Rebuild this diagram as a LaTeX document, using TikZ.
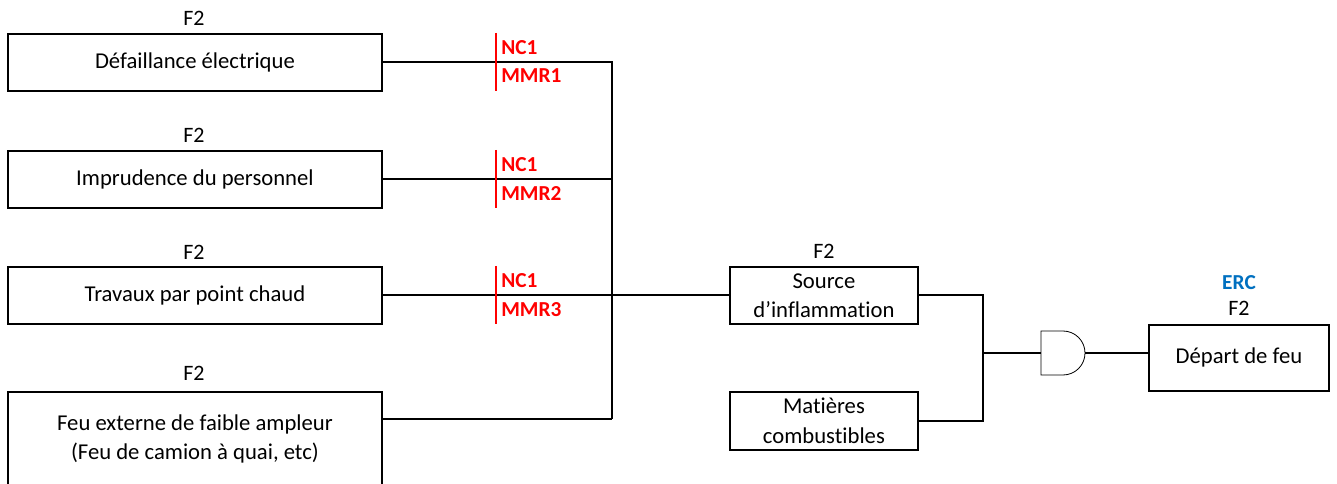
\documentclass[tikz,border=0pt]{standalone}
\usepackage{fontspec}
\setmainfont{Carlito}[Ligatures={NoCommon}]
\definecolor{barred}{HTML}{FF0000}
\definecolor{ercblue}{HTML}{0070C0}
\begin{document}
\begin{tikzpicture}[x=0.75pt,y=-0.75pt,
  evt/.style={draw,line width=1.4pt,rectangle,anchor=north west,inner sep=0pt,
    align=center,font=\fontsize{17}{21.5}\selectfont},
  lbl/.style={font=\fontsize{16.5}{19}\selectfont,inner sep=0pt},
  barlbl/.style={font=\bfseries\fontsize{16}{19}\selectfont,text=barred,inner sep=0pt,anchor=west},
  wire/.style={line width=1.4pt},
  bar/.style={draw=barred,line width=2.2pt}]
\useasboundingbox (0,0) rectangle (1337,484);

% initiating events
\node[evt,minimum width=374*0.75pt,minimum height=57*0.75pt] (e1) at (7,33) {Défaillance électrique};
\node[evt,minimum width=374*0.75pt,minimum height=57*0.75pt] (e2) at (7,150) {Imprudence du personnel};
\node[evt,minimum width=374*0.75pt,minimum height=57*0.75pt] (e3) at (7,266) {Travaux par point chaud};
\node[evt,minimum width=374*0.75pt,minimum height=94*0.75pt] (e4) at (7,391) {Feu externe de faible ampleur\\(Feu de camion à quai, etc)};
\node[lbl] (f1) at (194,18) {F2};
\node[lbl] (f2) at (194,135) {F2};
\node[lbl] (f3) at (194,252) {F2};
\node[lbl] (f4) at (194,373) {F2};

% intermediate events
\node[evt,minimum width=188*0.75pt,minimum height=57*0.75pt,font=\fontsize{17}{22}\selectfont] (src) at (729,266) {Source\\d\symbol{39}inflammation};
\node[evt,minimum width=188*0.75pt,minimum height=58*0.75pt,font=\fontsize{17}{22}\selectfont] (mat) at (729,391) {Matières\\combustibles};
\node[lbl] (fs) at (824,251) {F2};

% top event
\node[evt,minimum width=180*0.75pt,minimum height=66*0.75pt] (top) at (1148,324) {Départ de feu};
\node[lbl] (ft) at (1239,308) {F2};
\node[lbl,font=\bfseries\fontsize{16}{19}\selectfont,text=ercblue] (erc) at (1239,283) {ERC};

% OR junction of the initiating events
\coordinate (bus) at (612,419);
\draw[wire] (e1.east) -| (bus);
\draw[wire] (e2.east) -- (e2.east -| bus);
\draw[wire] (e3.east) -- (src.west);
\draw[wire] (e4.east |- bus) -- (bus);

% barriers on the branches
\coordinate (b1t) at (496,33);  \coordinate (b1b) at (496,91);
\coordinate (b2t) at (496,150); \coordinate (b2b) at (496,208);
\coordinate (b3t) at (496,266); \coordinate (b3b) at (496,324);
\draw[bar] (b1t) -- (b1b);
\draw[bar] (b2t) -- (b2b);
\draw[bar] (b3t) -- (b3b);
\node[barlbl] (n1) at (501,48) {NC1};
\node[barlbl] (m1) at (501,76) {MMR1};
\node[barlbl] (n2) at (501,165) {NC1};
\node[barlbl] (m2) at (501,194) {MMR2};
\node[barlbl] (n3) at (501,281) {NC1};
\node[barlbl] (m3) at (501,310) {MMR3};

% AND gate
\coordinate (gin) at (1041,353);
\coordinate (gout) at (1085,353);
\draw[line width=0.6pt] (1041,331) -- (1063,331) arc[start angle=90,end angle=-90,radius=22*0.75pt] -- (1041,375) -- cycle;

\coordinate (k) at (983,353);
\draw[wire] (src.east) -| (k);
\draw[wire] (mat.east) -| (k);
\draw[wire] (k) -- (gin);
\draw[wire] (gout) -- (gout -| top.west);
\end{tikzpicture}
\end{document}
